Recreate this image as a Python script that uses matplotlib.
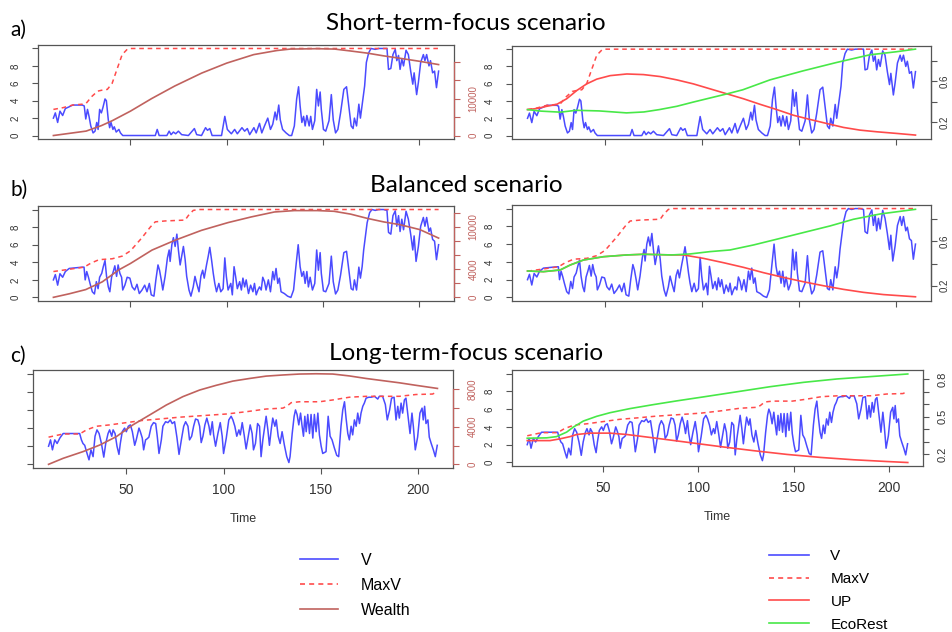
import matplotlib
matplotlib.use("Agg")
import matplotlib.pyplot as plt
from matplotlib.lines import Line2D

plt.rcParams['font.family'] = ['Liberation Sans', 'DejaVu Sans']

# ---------------- data ----------------
TIME_TICKS = [50, 100, 150, 200]
V_TICKS = [0, 2, 4, 6, 8, 10]
V_TICK_LABELS = ['0', '2', '4', '6', '8', '']

# ---- a) Short-term-focus scenario ----
t_v_a = [10, 11, 12.2, 13.4, 14.8, 16.2, 18.2, 20, 25, 26,
         26.8, 27.7, 28.5, 29.4, 30.6, 31.6, 32.5, 33.2, 34, 34.9,
         35.7, 36.8, 37.5, 38.5, 39.2, 39.9, 40.9, 41.6, 42.6, 44,
         44.8, 46, 62.9, 63.9, 64.9, 68.9, 70.1, 71.1, 72.3, 73.5,
         74.9, 76.6, 80.1, 83.2, 84.4, 86.9, 89, 90, 91.2, 92.4,
         97.3, 99, 100.3, 102.4, 104.1, 105.5, 107.9, 109.3, 110.7, 111.9,
         114.1, 115.3, 117, 118.2, 119.6, 121.3, 122.7, 123.9, 125.1, 125.9,
         127, 127.8, 129, 130.8, 132.5, 133.7, 135.1, 136.3, 137.3, 138.1,
         139, 139.9, 140.7, 141.6, 142.8, 143.6, 144.5, 145.7, 146.7, 147.6,
         148.5, 149.1, 150.2, 151.4, 153.1, 154.3, 155.3, 156.5, 157.7, 159.1,
         160.8, 162.2, 163.4, 164.6, 165.6, 166.3, 167.4, 168.6, 169.4, 170.6,
         171.6, 172.5, 173.7, 174.9, 177.1, 178.9, 181.4, 183.2, 184, 185.2,
         186.3, 187.5, 188.3, 189.2, 190, 190.9, 191.8, 193.1, 194.3, 195.5,
         196.6, 197.3, 198.6, 199.5, 200.7, 202.1, 202.9, 203.8, 205, 205.8,
         206.9, 207.9, 208.9, 210]
v_a = [2.0, 2.6, 1.5, 2.8, 2.3, 3.1, 3.3, 3.5, 3.5, 3.4,
       1.9, 3.0, 2.2, 1.1, 0.3, 0.5, 1.5, 0.7, 3.0, 2.6,
       3.2, 4.2, 4.0, 1.8, 0.9, 1.5, 0.7, 1.0, 0.4, 0.7,
       0.3, 0.0, 0.0, 0.7, 0.0, 0.0, 0.5, 0.1, 0.4, 0.2,
       0.5, 0.1, 0.0, 0.8, 0.1, 0.0, 0.9, 0.6, 0.8, 0.0,
       0.0, 2.2, 0.7, 0.2, 0.7, 0.2, 0.9, 0.5, 0.8, 0.1,
       0.9, 0.3, 1.4, 0.3, 1.1, 2.0, 0.7, 1.3, 2.7, 1.8,
       3.5, 1.8, 0.7, 0.3, 0.0, 0.0, 1.1, 4.2, 5.6, 3.4,
       1.5, 2.2, 1.1, 2.3, 1.1, 2.2, 0.7, 1.7, 5.3, 3.4,
       5.0, 3.0, 0.7, 0.5, 1.7, 4.7, 1.8, 0.3, 0.7, 2.6,
       5.3, 5.6, 3.4, 1.1, 0.8, 2.0, 1.1, 3.6, 2.0, 4.0,
       5.7, 8.4, 9.5, 10.0, 9.9, 10.0, 10.0, 10.0, 7.6, 7.7,
       9.3, 9.9, 8.6, 9.2, 7.6, 8.8, 8.0, 9.8, 9.3, 7.4,
       5.9, 7.2, 4.7, 6.1, 8.4, 9.3, 8.6, 9.3, 8.0, 8.6,
       7.2, 7.4, 5.5, 7.4]
t_maxv_a = [10, 15, 20, 25, 27, 30, 33, 35, 38, 40.5, 43, 45.7, 48.3, 50, 210]
maxv_a = [3.0, 3.2, 3.5, 3.6, 3.7, 4.5, 5.1, 5.2, 5.3, 6.0, 7.6, 9.3, 9.9, 10.0, 10.0]
t_wealth_a = [10, 27, 35, 40.5, 50, 61, 73, 87, 100, 114, 126, 133, 147, 156, 164, 173, 181, 190, 200, 210]
wealth_a = [0, 1200, 2700, 4000, 6600, 10000, 13400, 16900, 19600, 21900,
            23000, 23400, 23500, 23400, 22900, 22300, 21600, 20900, 20100, 19200]
t_up_a = [10, 14.8, 19.9, 25.1, 30.2, 35.4, 40.5, 45.7, 52.6, 61.2,
          69.8, 78.4, 86.9, 95.5, 104.1, 112.7, 121.3, 129.9, 138.5, 147.1,
          155.7, 164.3, 172.9, 181.4, 190, 200.3, 210]
up_a = [0.325, 0.335, 0.357, 0.376, 0.43, 0.51, 0.574, 0.62, 0.654, 0.67,
        0.664, 0.645, 0.613, 0.574, 0.526, 0.478, 0.43, 0.376, 0.325, 0.27,
        0.229, 0.19, 0.152, 0.126, 0.11, 0.094, 0.078]
t_eco_a = [10, 17, 27, 35, 47, 61, 70, 78, 87, 95.5, 104, 113, 121, 135, 152, 169, 186.5, 200, 210]
eco_a = [0.325, 0.31, 0.30, 0.318, 0.312, 0.293, 0.302, 0.325, 0.357, 0.398,
         0.437, 0.478, 0.517, 0.613, 0.70, 0.78, 0.856, 0.885, 0.911]

# ---- b) Balanced scenario ----
t_v_b = [10, 11, 12.2, 13.4, 14.8, 16.2, 18.2, 25.1, 25.9, 26.5,
         27.3, 28.2, 29, 30.2, 31.3, 32.3, 33.2, 34, 35.1, 35.9,
         36.8, 37.6, 38.5, 39.3, 40.2, 41.1, 41.9, 42.8, 43.6, 44.5,
         45.4, 46, 47.1, 48.3, 49.7, 50.9, 52.2, 53.4, 54.6, 56,
         57.4, 58.6, 59.8, 60.8, 62.2, 63.2, 64.3, 65.1, 66, 66.8,
         68, 69.2, 70.1, 70.6, 71.5, 72.3, 73.2, 74.1, 74.9, 75.8,
         76.6, 77.5, 78.4, 79.2, 80.4, 81.4, 82.6, 83.5, 84.4, 85.6,
         86.6, 87.5, 88.3, 89.5, 90.4, 91.2, 92.1, 93, 93.8, 94.7,
         95.9, 96.9, 98.1, 99, 99.8, 100.7, 102.1, 102.9, 103.8, 104.6,
         105.5, 106.7, 107.6, 108.4, 109.3, 110.1, 111.3, 112.4, 113.6, 114.4,
         115.3, 116.2, 117, 117.9, 118.7, 119.6, 120.4, 121.6, 122.7, 123.9,
         124.7, 125.6, 126.5, 127.3, 128.2, 129.9, 131.6, 133.3, 134.7, 135.9,
         137.1, 138.1, 139, 139.9, 140.7, 141.6, 142.4, 143.3, 144.5, 145.7,
         146.7, 147.6, 148.5, 149.1, 150.2, 151.4, 153.1, 154.3, 155.3, 156.5,
         157.7, 159.1, 160.8, 162.2, 163.4, 164.6, 165.6, 166.3, 167.4, 168.6,
         169.4, 170.3, 171.1, 172, 172.9, 174.2, 175.4, 177.1, 178.9, 181.4,
         183.2, 184, 185.2, 186.3, 187.5, 188.3, 189.2, 190, 190.9, 191.8,
         193.1, 194.3, 195.5, 196.6, 197.3, 198.3, 199.5, 200.7, 202.1, 202.9,
         203.8, 205, 205.8, 206.9, 207.9, 208.9, 210]
v_b = [2.0, 2.6, 1.4, 2.7, 2.3, 2.95, 3.3, 3.45, 3.45, 2.0,
       2.95, 2.3, 1.6, 0.65, 0.4, 1.8, 1.0, 2.3, 2.75, 3.5,
       4.2, 2.4, 1.2, 0.65, 2.3, 2.95, 3.6, 2.4, 3.7, 2.75,
       2.3, 0.85, 1.4, 2.3, 2.2, 1.2, 0.85, 1.5, 0.45, 0.85,
       1.4, 0.65, 1.6, 0.3, 0.15, 2.0, 3.7, 3.1, 2.0, 0.85,
       2.4, 4.5, 5.4, 4.1, 6.0, 6.8, 5.8, 7.2, 5.4, 3.7,
       4.7, 5.8, 4.3, 2.4, 0.85, 0.15, 1.2, 2.4, 1.6, 0.65,
       2.45, 3.1, 2.2, 3.7, 4.7, 5.7, 4.3, 2.75, 1.6, 0.65,
       1.6, 0.65, 1.0, 4.5, 2.4, 0.85, 1.6, 0.3, 3.5, 2.4,
       1.0, 1.8, 0.85, 2.2, 1.2, 2.0, 0.45, 1.4, 0.65, 1.6,
       0.3, 0.85, 1.2, 0.85, 2.3, 1.8, 0.85, 2.0, 0.65, 2.95,
       2.0, 3.3, 1.6, 2.2, 0.65, 0.45, 0.15, 0.0, 0.85, 3.5,
       6.0, 3.5, 2.4, 2.95, 1.6, 2.95, 1.2, 2.3, 0.85, 1.6,
       5.4, 3.1, 5.1, 2.75, 0.75, 0.65, 1.6, 4.7, 1.8, 0.4,
       0.85, 2.55, 5.1, 5.25, 3.1, 1.0, 0.85, 2.0, 0.85, 3.45,
       2.2, 3.5, 5.4, 7.0, 8.5, 9.65, 10.0, 9.9, 10.0, 10.0,
       9.9, 7.4, 7.2, 9.3, 9.85, 8.1, 9.3, 7.5, 8.9, 7.7,
       9.8, 8.9, 7.2, 5.4, 7.0, 4.1, 5.8, 8.1, 9.1, 8.1,
       9.1, 7.5, 7.9, 6.6, 6.4, 4.3, 6.0]
t_maxv_b = [10, 26, 29.4, 33.7, 40.5, 45.7, 50, 56, 60.3, 62.9, 68, 78.4, 80, 82.6, 85.2, 210]
maxv_b = [2.95, 3.45, 3.9, 4.3, 4.4, 4.7, 5.3, 6.8, 8.0, 8.6, 8.7, 8.8, 9.3, 9.9, 10.0, 10.0]
t_wealth_b = [10, 18.2, 26.8, 35.4, 44, 50, 61.2, 73.2, 86.9, 100.7, 112.7,
              124.7, 135.1, 147.1, 155.7, 164.3, 172.9, 181.4, 190, 200.3, 210]
wealth_b = [0, 500, 1100, 2200, 3900, 4800, 6700, 8100, 9500, 10600, 11400,
            12100, 12300, 12300, 12200, 11800, 11200, 10700, 10300, 9600, 8400]
t_up_b = [10, 18.2, 26.8, 32, 38.8, 49.1, 61.2, 69.8, 84.4, 90.4, 100.7,
          111, 121.3, 131.6, 141.9, 152.2, 162.5, 172.9, 183.2, 193.5, 210]
up_b = [0.333, 0.327, 0.342, 0.387, 0.432, 0.462, 0.478, 0.484, 0.478, 0.478, 0.447,
        0.408, 0.366, 0.318, 0.275, 0.236, 0.2, 0.167, 0.14, 0.12, 0.10]
t_eco_b = [10, 18.2, 26.8, 32, 38.8, 49.1, 61.2, 69.8, 84.4, 93.8,
           104.1, 114.4, 126.5, 138.5, 152.2, 166, 178, 191.8, 210]
eco_b = [0.333, 0.327, 0.342, 0.387, 0.432, 0.462, 0.478, 0.484, 0.478, 0.487,
         0.508, 0.523, 0.568, 0.62, 0.68, 0.74, 0.80, 0.848, 0.89]

# ---- c) Long-term-focus scenario ----
t_v_c = [10, 11, 12, 13.2, 14.4, 15.8, 17.5, 26, 26.9, 27.7,
         28.6, 29.8, 30.8, 31.8, 32.9, 33.9, 34.9, 36, 37.2, 38.4,
         39.4, 40.6, 41.4, 42.5, 43.2, 44.2, 45.2, 46.2, 46.9, 47.9,
         49.1, 50, 51, 52.1, 53.1, 54.3, 55.1, 56.5, 57.2, 58.2,
         58.9, 59.9, 60.6, 61.6, 62.8, 64, 65.1, 65.9, 66.8, 68,
         68.8, 70.2, 71.4, 72.6, 73.6, 74.8, 76, 77.1, 78.3, 79.5,
         80.5, 81.7, 82.5, 83.6, 84.6, 85.6, 86.8, 87.7, 88.5, 89.4,
         90.4, 91.4, 92.5, 93.2, 94.2, 94.9, 95.9, 97.1, 98.3, 99.3,
         100, 101.4, 102.7, 103.9, 104.8, 105.8, 106.8, 107.9, 108.6, 109.6,
         110.6, 111.6, 112.7, 113.7, 114.7, 115.4, 116.4, 117.5, 118.5, 119.3,
         120.2, 121.2, 121.9, 122.8, 123.6, 124.5, 125.3, 126.4, 127.1, 128.1,
         129.1, 130.1, 131.3, 132.5, 133.6, 134.2, 135.3, 136.3, 137, 137.8,
         138.7, 139.6, 140.4, 141.1, 141.8, 142.5, 143.3, 144.2, 145, 145.9,
         146.7, 147.6, 148.5, 149.3, 150.2, 151, 152.7, 153.8, 154.8, 155.8,
         157, 158.2, 159.2, 160.4, 161.3, 162.2, 163, 163.9, 164.7, 165.6,
         166.4, 167.3, 168.2, 169, 169.9, 170.7, 171.6, 172.4, 173.3, 174.7,
         175.9, 177.6, 179.3, 180.1, 181.8, 183.2, 184.2, 185.4, 186.4, 187.7,
         188.7, 189.6, 190.4, 191.3, 192.1, 193, 193.8, 194.7, 195.9, 196.9,
         197.6, 198.6, 199.8, 201, 202.1, 202.7, 203.4, 204.1, 205.1, 205.8,
         206.8, 207.9, 208.9, 209.9]
v_c = [2.0, 2.7, 1.6, 2.7, 2.3, 2.9, 3.4, 3.4, 2.7, 2.3,
       2.1, 1.2, 0.5, 1.6, 0.85, 3.1, 3.8, 3.4, 2.3, 0.8,
       2.3, 3.4, 3.8, 3.1, 3.8, 3.4, 2.0, 1.1, 2.3, 3.6,
       4.0, 3.6, 4.2, 4.35, 3.6, 2.1, 2.7, 4.0, 3.6, 2.9,
       1.6, 2.7, 2.8, 3.0, 4.2, 4.6, 4.5, 3.1, 1.2, 2.7,
       4.2, 4.7, 4.6, 4.9, 4.5, 4.7, 3.0, 1.1, 2.7, 4.2,
       4.7, 4.2, 2.7, 3.1, 4.2, 5.0, 4.9, 4.2, 2.4, 3.1,
       4.35, 5.1, 4.2, 3.25, 4.7, 3.25, 2.0, 3.4, 4.6, 3.1,
       1.2, 2.9, 4.9, 5.3, 4.9, 4.2, 3.1, 3.8, 3.25, 4.6,
       3.25, 1.7, 3.1, 4.35, 3.4, 1.6, 2.3, 4.5, 4.2, 0.85,
       2.7, 4.2, 5.3, 3.8, 2.1, 3.8, 5.1, 4.2, 4.9, 3.1,
       2.3, 3.6, 2.1, 0.85, 0.2, 0.85, 3.4, 5.3, 6.0, 5.5,
       4.35, 5.65, 4.2, 3.1, 5.3, 3.6, 5.5, 3.4, 5.5, 2.9,
       5.5, 3.6, 5.65, 3.25, 2.0, 1.2, 1.4, 5.3, 3.1, 2.7,
       1.8, 1.0, 0.85, 4.2, 6.0, 6.9, 5.1, 3.4, 2.7, 4.2,
       3.25, 4.9, 4.2, 5.65, 4.5, 5.65, 6.4, 6.75, 7.3, 7.4,
       7.4, 7.5, 7.2, 7.5, 7.5, 6.6, 4.9, 6.0, 7.3, 7.4,
       4.9, 6.4, 5.1, 6.75, 5.65, 7.1, 7.3, 5.65, 3.4, 5.65,
       4.2, 1.6, 3.0, 5.65, 6.2, 4.9, 6.4, 4.5, 4.9, 3.0,
       2.3, 1.6, 0.85, 2.1]
t_maxv_c = [10, 17.5, 26, 29.5, 34.6, 41.4, 50, 58.6, 67.1, 77.4, 87.7, 101.4, 111.6,
            121.9, 130.5, 132.5, 134.8, 139, 149.3, 156.2, 164.7, 173.3, 190.4, 199, 207.5, 209.9]
maxv_c = [3.0, 3.35, 3.35, 3.8, 4.2, 4.35, 4.6, 4.85, 5.0, 5.2, 5.35, 5.55, 5.8,
          6.1, 6.2, 6.4, 6.8, 6.9, 6.9, 7.1, 7.4, 7.5, 7.5, 7.7, 7.75, 8.0]
t_wealth_c = [10, 17.5, 27.7, 36.3, 44.9, 53.4, 62, 70.5, 79.1, 87.7, 96.2, 104.8,
              113.4, 121.9, 130.5, 139, 147.6, 156.2, 164.7, 173.3, 181.8, 190.4, 199, 210]
wealth_c = [0, 640, 1350, 2050, 2950, 4200, 5250, 6300, 7200, 7900, 8400, 8850,
            9130, 9380, 9500, 9600, 9630, 9600, 9400, 9130, 8900, 8670, 8400, 8070]
t_up_c = [10, 22, 27.2, 32.5, 36, 43, 53.5, 62.3, 76.3, 93.9, 111.4, 129, 146.5, 164, 181.6, 199, 210]
up_c = [0.308, 0.308, 0.322, 0.34, 0.357, 0.368, 0.368, 0.357, 0.33, 0.295,
        0.26, 0.227, 0.197, 0.173, 0.154, 0.14, 0.132]
t_eco_c = [10, 20.2, 25.4, 30.7, 34.2, 39.5, 46.5, 53.5, 64, 76.3, 88.6, 102.6,
           120.2, 137.7, 155.3, 172.8, 190.4, 210]
eco_c = [0.327, 0.33, 0.34, 0.376, 0.416, 0.465, 0.503, 0.532, 0.565, 0.597, 0.627,
         0.659, 0.70, 0.741, 0.776, 0.803, 0.822, 0.843]

TITLES = ['Short-term-focus scenario', 'Balanced scenario', 'Long-term-focus scenario']
PANEL_TAGS = ['a)', 'b)', 'c)']

# ---------------- style ----------------
C_V = '#4b4bff'
C_MAXV = '#ff4b4b'
C_WEALTH = '#c0625e'
C_UP = '#ff4b4b'
C_ECO = '#48e848'
C_AX = '#555555'
C_TXT = '#333333'
DASH = (0, (3, 2.5))
TITLE_FONT = ['Lato', 'DejaVu Sans']

W, H = 952, 632
fig = plt.figure(figsize=(W / 100, H / 100), dpi=100)
fig.patch.set_facecolor('white')


def px_axes(box):
    x0, y0, x1, y1 = box
    return fig.add_axes([x0 / W, 1 - y1 / H, (x1 - x0) / W, (y1 - y0) / H])


def base_panel(box, tv, v, tm, mv, show_vlabels, show_time):
    ax = px_axes(box)
    ax.plot(tv, v, color=C_V, lw=1.1)
    ax.plot(tm, mv, color=C_MAXV, lw=1.1, ls=DASH)
    ax.set_xlim(2, 218)
    ax.set_ylim(-0.4, 10.4)
    ax.set_xticks(TIME_TICKS)
    ax.set_xticklabels([str(t) for t in TIME_TICKS])
    ax.set_yticks(V_TICKS)
    ax.set_yticklabels(V_TICK_LABELS if show_vlabels else [''] * len(V_TICKS),
                       rotation=90, va='center')
    ax.tick_params(axis='both', direction='out', length=4.5, width=0.8, color=C_AX)
    ax.tick_params(axis='y', labelsize=7, pad=8, labelcolor=C_TXT)
    ax.tick_params(axis='x', labelsize=10, pad=6, labelcolor=C_TXT, labelbottom=show_time)
    for s in ax.spines.values():
        s.set_color(C_AX)
        s.set_linewidth(0.9)
    if show_time:
        ax.set_xlabel('Time', fontsize=9, color=C_TXT, labelpad=12)
    return ax


def twin_axis(ax, ticks, labels, ylim, tick_color, label_color, labelsize, pad):
    ax2 = ax.twinx()
    ax2.set_ylim(*ylim)
    ax2.set_yticks(ticks)
    ax2.set_yticklabels(labels, rotation=90, va='center')
    ax2.tick_params(axis='y', direction='out', length=4.5, width=0.8, color=tick_color,
                    labelcolor=label_color, labelsize=labelsize, pad=pad)
    for k in ('top', 'bottom', 'left'):
        ax2.spines[k].set_visible(False)
    ax2.spines['right'].set_color(tick_color)
    ax2.spines['right'].set_linewidth(0.9)
    ax2.spines['right'].set_bounds(ticks[0], ticks[-1])
    return ax2


rows = [
    dict(lbox=(38, 45, 454, 139), rbox=(512, 45.7, 931, 139),
         tv=t_v_a, v=v_a, tm=t_maxv_a, mv=maxv_a,
         tw=t_wealth_a, w=wealth_a, wlim=(-940, 24500),
         wticks=[0, 5000, 10000, 15000, 20000], wlabels=['0', '', '10000', '', ''],
         tu=t_up_a, up=up_a, te=t_eco_a, eco=eco_a, plim=(0.04, 0.944),
         pticks=[0.2, 0.4, 0.6, 0.8], plabels=['0.2', '', '0.6', ''], psize=7, ppad=2,
         left_vlabels=True, time=False),
    dict(lbox=(38, 206, 454, 301), rbox=(512, 205, 931, 301),
         tv=t_v_b, v=v_b, tm=t_maxv_b, mv=maxv_b,
         tw=t_wealth_b, w=wealth_b, wlim=(-520, 12950),
         wticks=[0, 2000, 4000, 6000, 8000, 10000, 12000],
         wlabels=['0', '', '4000', '', '', '10000', ''],
         tu=t_up_b, up=up_b, te=t_eco_b, eco=eco_b, plim=(0.062, 0.929),
         pticks=[0.2, 0.4, 0.6, 0.8], plabels=['0.2', '', '0.6', ''], psize=7, ppad=2,
         left_vlabels=True, time=False),
    dict(lbox=(33, 370, 453, 468), rbox=(512, 370, 923, 466),
         tv=t_v_c, v=v_c, tm=t_maxv_c, mv=maxv_c,
         tw=t_wealth_c, w=wealth_c, wlim=(-390, 10030),
         wticks=[0, 2000, 4000, 6000, 8000], wlabels=['0', '', '4000', '', '8000'],
         tu=t_up_c, up=up_c, te=t_eco_c, eco=eco_c, plim=(0.104, 0.875),
         pticks=[0.2, 0.3, 0.4, 0.5, 0.6, 0.7, 0.8],
         plabels=['0.2', '', '', '0.5', '', '', '0.8'], psize=8, ppad=6,
         left_vlabels=False, time=True),
]

for r in rows:
    # left: V, MaxV, Wealth
    axl = base_panel(r['lbox'], r['tv'], r['v'], r['tm'], r['mv'], r['left_vlabels'], r['time'])
    axw = twin_axis(axl, r['wticks'], r['wlabels'], r['wlim'], C_WEALTH, C_WEALTH, 7, 6)
    axw.plot(r['tw'], r['w'], color=C_WEALTH, lw=1.2)
    # right: V, MaxV, UP, EcoRest
    axr = base_panel(r['rbox'], r['tv'], r['v'], r['tm'], r['mv'], True, r['time'])
    axp = twin_axis(axr, r['pticks'], r['plabels'], r['plim'], C_AX, C_TXT, r['psize'], r['ppad'])
    axp.plot(r['tu'], r['up'], color=C_UP, lw=1.2)
    axp.plot(r['te'], r['eco'], color=C_ECO, lw=1.2)

# titles and panel tags
for title, tag, ty, gy in zip(TITLES, PANEL_TAGS, [23, 186, 353], [30, 190, 356]):
    fig.text(466 / W, 1 - ty / H, title, ha='center', va='center', fontsize=17.5,
             family=TITLE_FONT, color='black')
    fig.text(10 / W, 1 - gy / H, tag, ha='left', va='center', fontsize=15,
             family=TITLE_FONT, color='black')

# legends
h_left = [Line2D([], [], color=C_V, lw=1.2),
          Line2D([], [], color=C_MAXV, lw=1.2, ls=DASH),
          Line2D([], [], color=C_WEALTH, lw=1.2)]
fig.legend(h_left, ['V', 'MaxV', 'Wealth'], loc='upper left',
           bbox_to_anchor=(300 / W, 1 - 553 / H), frameon=False, fontsize=11.5,
           handlelength=2.4, handletextpad=1.4, labelspacing=0.62,
           borderpad=0, borderaxespad=0)
h_right = [Line2D([], [], color=C_V, lw=1.2),
           Line2D([], [], color=C_MAXV, lw=1.2, ls=DASH),
           Line2D([], [], color=C_UP, lw=1.2),
           Line2D([], [], color=C_ECO, lw=1.2)]
fig.legend(h_right, ['V', 'MaxV', 'UP', 'EcoRest'], loc='upper left',
           bbox_to_anchor=(769 / W, 1 - 549 / H), frameon=False, fontsize=11,
           handlelength=2.65, handletextpad=1.37, labelspacing=0.58,
           borderpad=0, borderaxespad=0)

fig.savefig('out.png', dpi=100, facecolor='white')
